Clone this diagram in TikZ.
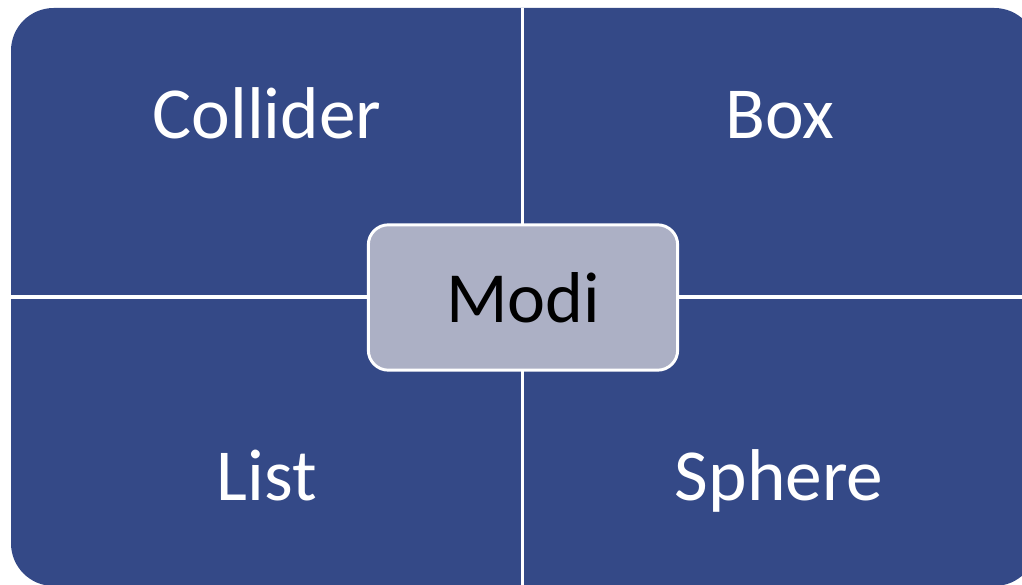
\documentclass[tikz,border=0pt]{standalone}
\usepackage{fontspec}
\setmainfont{Carlito}
\definecolor{quadblue}{RGB}{52,73,135}
\definecolor{hubgray}{RGB}{172,176,197}
\tikzset{every picture/.style={line width=0.75pt}}
\tikzset{
  quadlabel/.style={text=white, font=\fontsize{55}{60}\selectfont, inner sep=0.75pt, anchor=base},
  hubbox/.style={draw=white, line width=2.2pt, fill=hubgray, rounded corners=15pt,
    minimum width=232pt, minimum height=109pt, font=\fontsize{54}{58}\selectfont, text=black},
  gapline/.style={draw=white, line width=2.4pt}
}

\begin{document}
\begin{tikzpicture}[x=0.75pt,y=0.75pt,yscale=-1,xscale=1]
\useasboundingbox (0,0) rectangle (1022,585);
\clip (0,0) rectangle (1022,585);

%Rounded Rect [id:outer]
\fill [quadblue, rounded corners=32pt] (11,8) rectangle (1037,586);

%Straight Lines [id:gaps]
\coordinate (topgap) at (522.5,8);
\coordinate (botgap) at (522.5,586);
\coordinate (leftgap) at (11,297);
\coordinate (rightgap) at (1037,297);
\draw [gapline] (topgap) -- (botgap);
\draw [gapline] (leftgap) -- (rightgap);

% Text Node
\node [quadlabel] (collider) at (267,139) {Collider};
% Text Node
\node [quadlabel] (box) at (780,139) {Box};
% Text Node
\node [quadlabel] (list) at (267,500) {List};
% Text Node
\node [quadlabel] (sphere) at (779,500) {Sphere};

% Center Node
\node [hubbox] (modi) at (523,297.5) {Modi};

\end{tikzpicture}
\end{document}
